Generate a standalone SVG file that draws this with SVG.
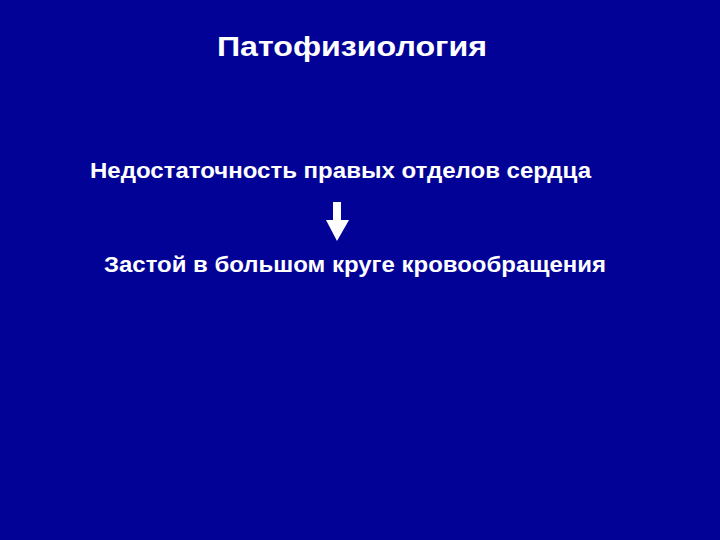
<svg xmlns="http://www.w3.org/2000/svg" width="720" height="540" viewBox="0 0 720 540">
<style>
.t{font-family:"Liberation Sans",Arial,sans-serif;font-weight:bold;fill:#ffffff}
</style>
<rect width="720" height="540" fill="#020296"/>
<g id="title"><text class="t" x="217" y="56" font-size="28" textLength="270" lengthAdjust="spacingAndGlyphs">Патофизиология</text></g>
<g id="node1"><text class="t" x="90" y="178" font-size="22" textLength="501" lengthAdjust="spacingAndGlyphs">Недостаточность правых отделов сердца</text></g>
<g id="node2"><text class="t" x="104" y="272" font-size="22" textLength="502" lengthAdjust="spacingAndGlyphs">Застой в большом круге кровообращения</text></g>
<g id="connectors"><polygon fill="#ffffff" points="333,202 341,202 341,220 349,220 337,241 326,220 333,220"/></g>
</svg>
